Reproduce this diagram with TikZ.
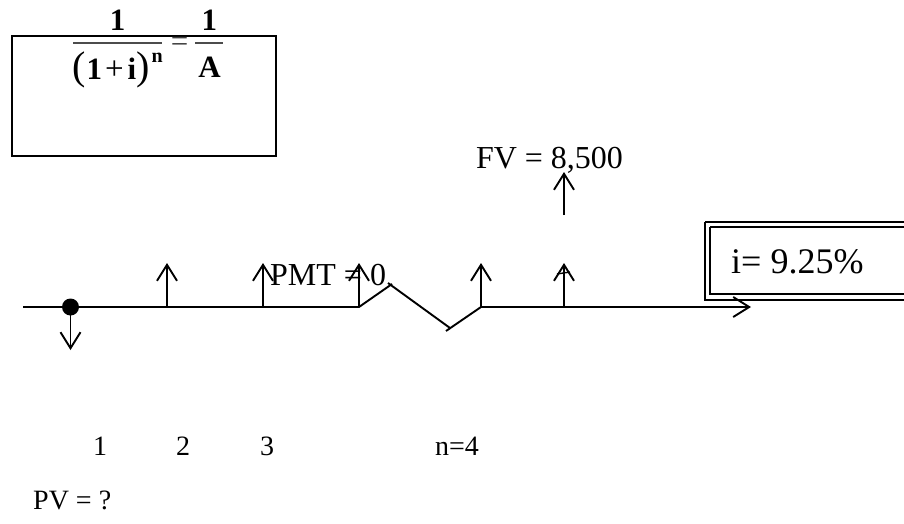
\documentclass[tikz,border=0pt]{standalone}
\usepackage{fontspec}
\setmainfont{Liberation Serif}
\usetikzlibrary{arrows.meta}
\begin{document}
\begin{tikzpicture}[x=1pt,y=-1pt,
  tl/.style={line width=1.9pt},
  arr/.style={tl,-{Straight Barb[length=16pt,width=20pt,line width=1.9pt]}},
  lbl/.style={inner sep=0pt,font=\fontsize{32}{36}\selectfont},
  small/.style={inner sep=0pt,font=\fontsize{28}{30}\selectfont},
  frm/.style={inner sep=0pt,font=\fontsize{31}{34}\selectfont\bfseries},
  fbar/.style={line width=2pt,black!70}]
\useasboundingbox (0,0) rectangle (904,523);

% formula box
\draw[line width=2.2pt] (12,36) rectangle (276,156);
\node[frm,anchor=base] (n1) at (117.5,30.7) {1};
\draw[fbar] (73,42.5) -- (162,42.5);
\node[inner sep=0pt,anchor=base west] (den) at (72,79)
  {{\fontsize{40}{42}\selectfont(}\kern1pt{\fontsize{31}{34}\selectfont\bfseries 1}\kern3pt{\fontsize{33}{34}\selectfont+}\kern4pt{\fontsize{31}{34}\selectfont\bfseries i}{\fontsize{40}{42}\selectfont)}\kern2pt\raisebox{17pt}{\fontsize{20}{22}\selectfont\bfseries n}};
\node[inner sep=0pt,anchor=base,font=\fontsize{31}{34}\selectfont,text=black!75] (eq) at (179.5,51) {=};
\node[frm,anchor=base] (n2) at (209.3,30.7) {1};
\draw[fbar] (195,42.5) -- (223,42.5);
\node[frm,anchor=base] (dA) at (209.5,77) {A};

% timeline coordinates
\coordinate (s) at (23,307);
\coordinate (p0) at (70.5,307);
\coordinate (d0) at (70.5,350);
\coordinate (t1) at (167,307); \coordinate (u1) at (167,263);
\coordinate (t2) at (263,307); \coordinate (u2) at (263,263);
\coordinate (t3) at (359,307); \coordinate (u3) at (359,263);
\coordinate (t4) at (481,307); \coordinate (u4) at (481,263);
\coordinate (t5) at (564,307); \coordinate (u5) at (564,263);
\coordinate (f0) at (564,215); \coordinate (f1) at (564,172);
\coordinate (e) at (751,307);
\coordinate (z1) at (392,284);
\coordinate (z1b) at (388,283);
\coordinate (z2) at (450,328);
\coordinate (z2b) at (446,331);

\draw[tl] (s) -- (t3) -- (z1);
\draw[tl] (z1b) -- (z2);
\draw[tl] (z2b) -- (t4);
\draw[arr] (t4) -- (e);
\fill (p0) circle (8.5);
\draw[arr] (p0) -- (d0);
\draw[arr] (t1) -- (u1);
\draw[arr] (t2) -- (u2);
\draw[arr] (t3) -- (u3);
\draw[arr] (t4) -- (u4);
\draw[arr] (t5) -- (u5);
\draw[line width=1.4pt] (557,274) -- (570,272);
\draw[arr] (f0) -- (f1);

% labels
\node[lbl,anchor=base] (fv) at (549.5,168) {FV = 8,500};
\node[lbl,anchor=base west] (pmt) at (270,285) {PMT = 0};

% interest box
\draw[line width=2.6pt] (705,222) -- (705,300) -- (920,300);
\draw[line width=2.6pt] (705,222) -- (920,222);
\draw[line width=1.8pt] (710,227) -- (710,294) -- (920,294);
\draw[line width=1.8pt] (710,227) -- (920,227);
\node[inner sep=0pt,anchor=base west,font=\fontsize{36}{40}\selectfont] (ir) at (731,273) {i= 9.25\%};

% period labels
\node[small,anchor=base] (l1) at (100,455) {1};
\node[small,anchor=base] (l2) at (183,455) {2};
\node[small,anchor=base] (l3) at (267,455) {3};
\node[small,anchor=base] (l4) at (457,455) {n=4};
\node[small,anchor=base west] (pv) at (33,509) {PV = ?};
\end{tikzpicture}
\end{document}
